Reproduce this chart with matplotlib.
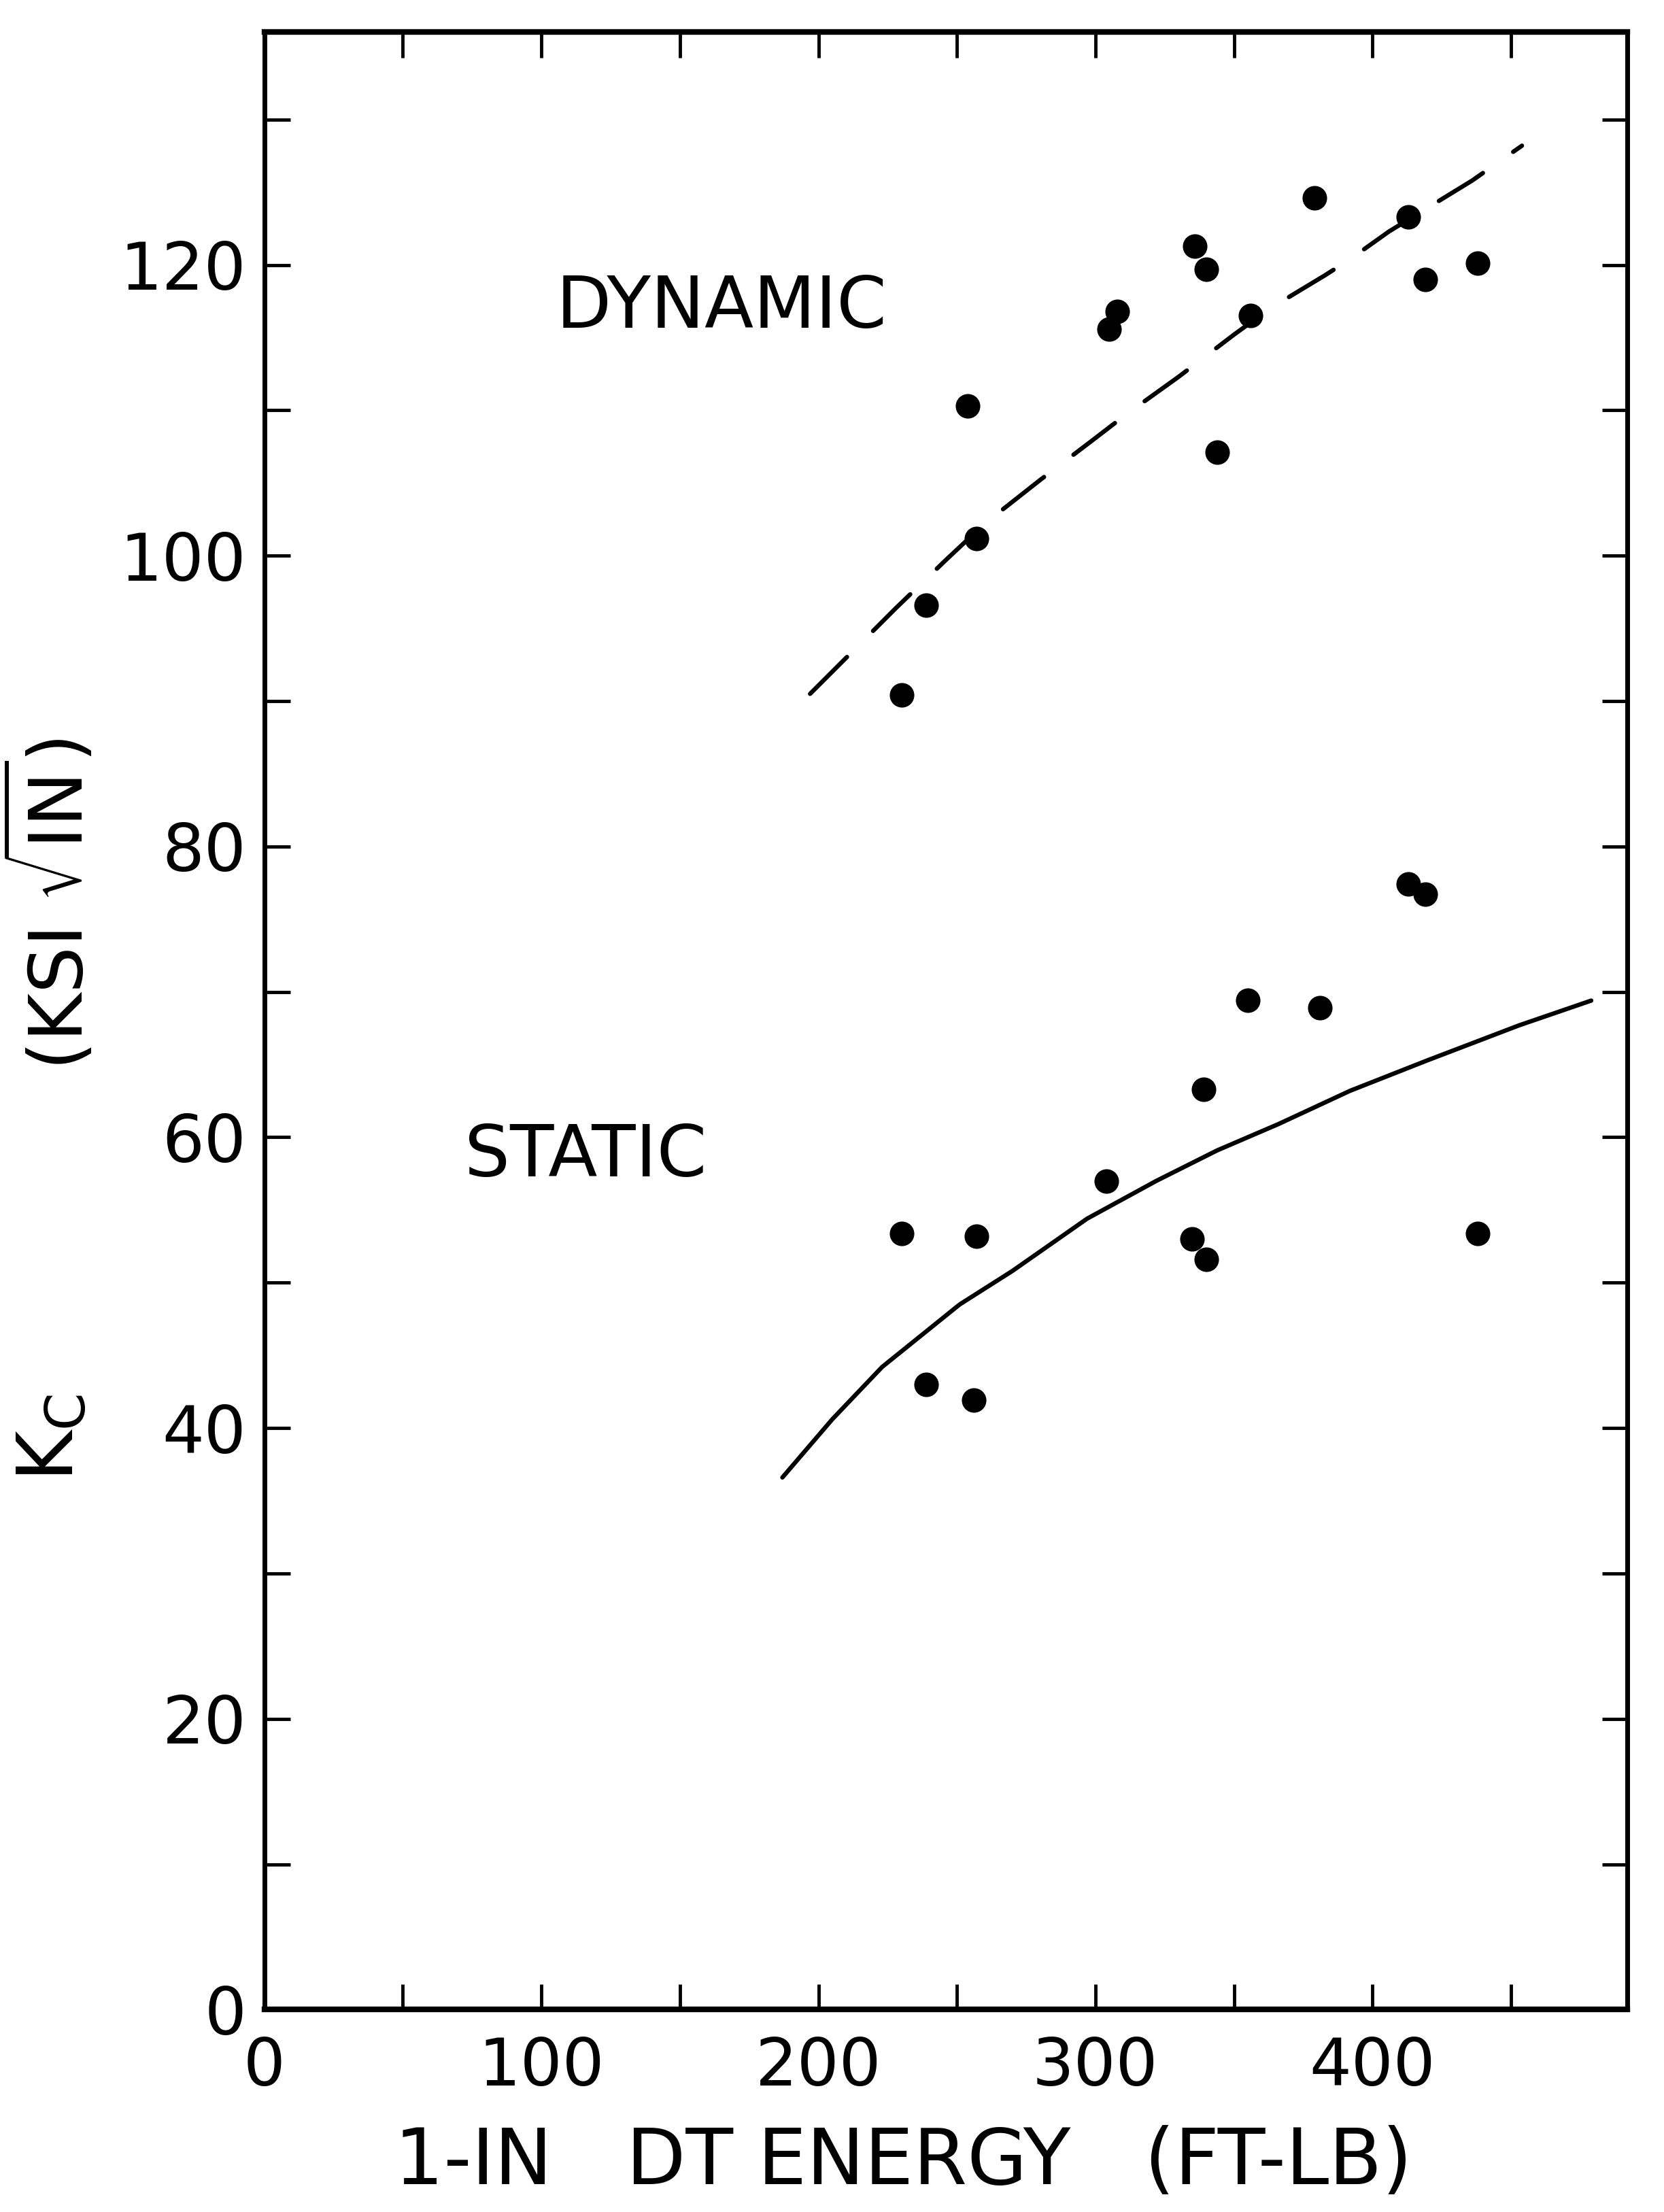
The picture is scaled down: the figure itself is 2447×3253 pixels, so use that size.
import numpy as np
import matplotlib
matplotlib.use("Agg")
import matplotlib.pyplot as plt

# (scan rotation removed)
dyn_x = [230, 239, 254, 257, 305, 308, 336, 340, 344, 356, 379, 413, 419, 438]
dyn_y = [90.4, 96.6, 110.3, 101.2, 115.6, 116.8, 121.3, 119.7, 107.1, 116.5,
         124.6, 123.3, 119.0, 120.1]

sta_x = [230, 239, 256, 257, 304, 335, 340, 339, 355, 381, 413, 419, 438]
sta_y = [53.4, 43.0, 41.9, 53.2, 57.0, 53.0, 51.6, 63.3, 69.4, 68.9, 77.4,
         76.7, 53.4]

# fitted curves, traced
dash_x = [197, 228, 246, 260, 280, 298, 311, 330, 350, 363, 383, 392, 406, 436, 454]
dash_y = [90.5, 96.4, 99.7, 102.2, 105.2, 107.8, 109.7, 112.3, 115.2, 117.0,
          119.3, 120.4, 122.3, 125.8, 128.2]

solid_x = [187, 205, 223, 251, 270, 297, 322, 344, 366, 392, 420, 453, 479]
solid_y = [36.6, 40.6, 44.2, 48.5, 50.8, 54.4, 57.0, 59.1, 60.9, 63.2, 65.3,
           67.7, 69.4]

x_ticks = np.arange(0, 451, 50)
x_labels = ['0', '', '100', '', '200', '', '300', '', '400', '']
y_ticks = np.arange(0, 131, 10)
y_labels = ['0', '', '20', '', '40', '', '60', '', '80', '', '100', '', '120', '']

plt.rcParams['font.family'] = ['DejaVu Sans']

fig = plt.figure(figsize=(24.47, 32.53), dpi=100)
ax = fig.add_axes([0.1589, 0.0915, 0.8190, 0.8939])

ax.plot(dash_x, dash_y, color='black', lw=4.6, linestyle=(0, (12, 8.5)),
        dash_capstyle='round', zorder=2)
ax.plot(solid_x, solid_y, color='black', lw=4.6, solid_capstyle='round', zorder=2)
ax.plot(dyn_x, dyn_y, 'o', color='black', markersize=26, markeredgewidth=0, zorder=3)
ax.plot(sta_x, sta_y, 'o', color='black', markersize=26, markeredgewidth=0, zorder=3)

ax.set_xlim(0, 492)
ax.set_ylim(0, 136)
ax.set_xticks(x_ticks)
ax.set_xticklabels(x_labels)
ax.set_yticks(y_ticks)
ax.set_yticklabels(y_labels)

ax.tick_params(direction='in', length=27, width=3.5, top=True, right=True,
               labelsize=70, colors='black')
ax.tick_params(axis='x', pad=28)
ax.tick_params(axis='y', pad=19)

for side in ['left', 'right']:
    ax.spines[side].set_linewidth(5)
for side in ['top', 'bottom']:
    ax.spines[side].set_linewidth(6)

ax.text(165, 115.7, 'DYNAMIC', fontsize=76, ha='center', va='baseline')
ax.text(116, 57.3, 'STATIC', fontsize=76, ha='center', va='baseline')

fig.text(0.5427, 0.0126, '1-IN   DT ENERGY   (FT-LB)', fontsize=82,
         ha='center', va='baseline')
fig.text(0.031, 0.5911, r'(KSI $\sqrt{\mathregular{IN}}$)', fontsize=78,
         rotation=90, ha='center', va='center')
fig.text(0.031, 0.3501, r'K$_\mathregular{C}$', fontsize=82,
         rotation=90, ha='center', va='center')

fig.savefig('out.png', dpi=100)
